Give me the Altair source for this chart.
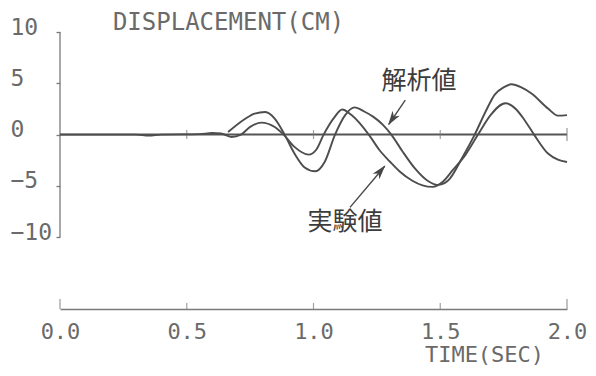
import altair as alt
import pandas as pd

# ---- data ----
exp_t = [0.0, 0.30, 0.35, 0.40, 0.55, 0.60, 0.635, 0.676, 0.714, 0.75, 0.794, 0.847, 0.882,
         0.925, 0.981, 1.01, 1.04, 1.08, 1.113, 1.15, 1.218, 1.26, 1.30, 1.34, 1.39, 1.43,
         1.47, 1.51, 1.55, 1.60, 1.649, 1.70, 1.757, 1.80, 1.833, 1.87, 1.925, 1.964, 2.0]
exp_v = [0.0, 0.0, -0.1, 0.0, 0.05, 0.15, 0.1, -0.23, 0.0, 0.75, 1.17, 0.74, 0.0,
         -1.2, -1.95, -1.5, 0.0, 1.6, 2.45, 1.9, 0.0, -1.5, -2.6, -3.6, -4.5, -4.95,
         -5.1, -4.6, -3.45, -1.95, 0.0, 1.95, 3.05, 2.45, 1.4, 0.0, -1.85, -2.44, -2.67]

ana_t = [0.663, 0.728, 0.768, 0.81, 0.847, 0.886, 0.925, 0.965, 1.007, 1.044, 1.085, 1.125,
         1.162, 1.20, 1.235, 1.274, 1.307, 1.35, 1.40, 1.45, 1.49, 1.53, 1.59, 1.636, 1.68,
         1.715, 1.75, 1.78, 1.82, 1.86, 1.925, 1.964, 2.0]
ana_v = [0.25, 1.5, 2.05, 2.2, 1.56, 0.0, -1.85, -3.2, -3.58, -2.67, 0.0, 1.9,
         2.65, 2.25, 1.75, 0.95, 0.0, -1.6, -3.3, -4.5, -4.9, -4.5, -2.1, 0.0, 2.3,
         3.9, 4.6, 4.9, 4.6, 4.0, 2.54, 1.85, 1.9]

x_ticks = [0.0, 0.5, 1.0, 1.5, 2.0]
y_ticks = [-10, -5, 0, 5, 10]
x_domain = [0.0, 2.0]
y_domain = [-17.0, 10.0]
y_axis_span = [-10, 10]

name_ana = "解析値"
name_exp = "実験値"
ana_label_at = [1.416, 5.2]
exp_label_at = [1.124, -8.56]
ana_arrow = [1.362, 3.35, 1.297, 1.0]      # t0, v0, t1, v1
exp_arrow = [1.144, -7.09, 1.281, -3.09]
ana_head = [1.31, 1.49]
exp_head = [1.265, -3.54]

# ---- tables ----
lines = pd.DataFrame({
    "t": exp_t + ana_t,
    "v": exp_v + ana_v,
    "series": [name_exp] * len(exp_t) + [name_ana] * len(ana_t),
})
yaxis_df = pd.DataFrame({"t": [x_domain[0]], "v": [y_axis_span[0]], "v2": [y_axis_span[1]]})
zero_df = pd.DataFrame({"t": [x_domain[0]], "t2": [x_domain[1]], "v": [0]})
zero_ticks = pd.DataFrame({"t": x_ticks[1:-1], "v": [0] * (len(x_ticks) - 2)})
zero_end = pd.DataFrame({"t": [x_ticks[-1]], "v": [0]})
bottom_inner = pd.DataFrame({"t": x_ticks[1:-1], "v": [y_domain[0]] * (len(x_ticks) - 2)})
bottom_ends = pd.DataFrame({"t": [x_ticks[0], x_ticks[-1]], "v": [y_domain[0]] * 2})
labels = pd.DataFrame({"t": [ana_label_at[0], exp_label_at[0]],
                       "v": [ana_label_at[1], exp_label_at[1]],
                       "txt": [name_ana, name_exp]})
arrows = pd.DataFrame({"t": [ana_arrow[0], exp_arrow[0]], "v": [ana_arrow[1], exp_arrow[1]],
                       "t2": [ana_arrow[2], exp_arrow[2]], "v2": [ana_arrow[3], exp_arrow[3]]})
head_a = pd.DataFrame({"t": [ana_head[0]], "v": [ana_head[1]]})
head_e = pd.DataFrame({"t": [exp_head[0]], "v": [exp_head[1]]})

MONO = "DejaVu Sans Mono"
AX = "#6a6a6a"
INK = "#474747"

xs = alt.Scale(domain=x_domain, nice=False, zero=False)
ys = alt.Scale(domain=y_domain, nice=False, zero=False)

x_axis = alt.Axis(values=x_ticks, format=".1f", domain=True, domainColor="#7a7a7a",
                  domainWidth=1.3, ticks=False, tickSize=0, grid=False,
                  labelFont=MONO, labelFontSize=22, labelColor=AX, labelPadding=22,
                  labelBaseline="middle", labelFlush=False, labelOverlap=False,
                  title="TIME(SEC)", titleFont=MONO, titleFontSize=22,
                  titleFontWeight="normal", titleColor=AX, titleX=424, titleY=45,
                  titleAlign="center", titleBaseline="middle")
y_axis = alt.Axis(values=y_ticks, format="d", domain=False, ticks=True, tickSize=4,
                  tickColor="#7a7a7a", tickWidth=1.3, grid=False,
                  labelFont=MONO, labelFontSize=23, labelColor=AX, labelAlign="left",
                  labelPadding=46, labelBaseline="middle", labelOffset=-5,
                  labelFlush=False, labelOverlap=False,
                  title="DISPLACEMENT(CM)", titleFont=MONO, titleFontSize=24,
                  titleFontWeight="normal", titleColor=AX, titleAngle=0,
                  titleX=168, titleY=-10, titleAlign="center", titleBaseline="middle")


def X(f="t"):
    return alt.X(f, type="quantitative", scale=xs, axis=x_axis)


def Y(f="v"):
    return alt.Y(f, type="quantitative", scale=ys, axis=y_axis)


yaxis_line = alt.Chart(yaxis_df).mark_rule(color="#7a7a7a", strokeWidth=1.3).encode(
    x=X(), y=Y(), y2="v2")
zero_line = alt.Chart(zero_df).mark_rule(color="#555555", strokeWidth=2).encode(
    x=X(), x2="t2", y=Y())
zero_tk = alt.Chart(zero_ticks).mark_tick(orient="vertical", size=9, thickness=1.2,
                                          color="#777777").encode(x=X(), y=Y())
zero_endtk = alt.Chart(zero_end).mark_tick(orient="vertical", size=13, thickness=1.3,
                                           color="#777777").encode(x=X(), y=Y())
bot_in = alt.Chart(bottom_inner).mark_tick(orient="vertical", size=6, thickness=1.2,
                                           yOffset=-3, color="#7a7a7a").encode(x=X(), y=Y())
bot_end = alt.Chart(bottom_ends).mark_tick(orient="vertical", size=10, thickness=1.3,
                                           yOffset=-5, color="#7a7a7a").encode(x=X(), y=Y())
curves = alt.Chart(lines).mark_line(interpolate="monotone", color="#4d4d4d",
                                    strokeWidth=1.9).encode(
    x=X(), y=Y(), detail="series:N", order=alt.Order("t:Q"))
texts = alt.Chart(labels).mark_text(font="Noto Sans CJK JP", fontSize=25, color="#3c3c3c",
                                    align="center", baseline="middle").encode(
    x=X(), y=Y(), text="txt:N")
arrow_lines = alt.Chart(arrows).mark_rule(color=INK, strokeWidth=1.4).encode(
    x=X(), y=Y(), x2="t2", y2="v2")
dart = "M0,-1L0.6,1L0,0.45L-0.6,1Z"
head1 = alt.Chart(head_a).mark_point(shape=dart, size=210, filled=True, opacity=1,
                                     color=INK, angle=214).encode(x=X(), y=Y())
head2 = alt.Chart(head_e).mark_point(shape=dart, size=210, filled=True, opacity=1,
                                     color=INK, angle=40).encode(x=X(), y=Y())

chart = alt.layer(
    yaxis_line, zero_line, zero_tk, zero_endtk, bot_in, bot_end, curves,
    texts, arrow_lines, head1, head2
).properties(
    width=507, height=277,
    padding={"left": 52, "top": 24, "right": 21, "bottom": 58},
    autosize=alt.AutoSizeParams(type="none"),
    background="white",
).configure_view(stroke=None)

chart.save("out.html", embed_options={"renderer": "svg", "actions": False})
